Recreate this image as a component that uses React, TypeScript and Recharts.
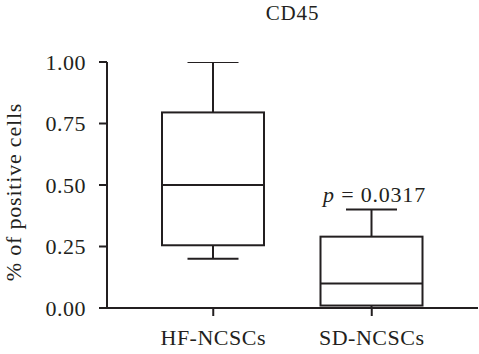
import React from 'react';
import { ComposedChart, Bar, XAxis, YAxis } from 'recharts';

const categories = ['HF-NCSCs', 'SD-NCSCs'];
const minVals = [0.2, 0.0];
const q1Vals = [0.255, 0.01];
const medianVals = [0.5, 0.1];
const q3Vals = [0.795, 0.29];
const maxVals = [1.0, 0.4];
const pLabels = ['', '0.0317'];
const yTicks = [0, 0.25, 0.5, 0.75, 1];
const title = 'CD45';
const yLabel = '% of positive cells';

const data = categories.map((name, i) => ({
  name,
  range: [minVals[i], maxVals[i]],
  min: minVals[i],
  q1: q1Vals[i],
  median: medianVals[i],
  q3: q3Vals[i],
  max: maxVals[i],
  p: pLabels[i],
}));

const INK = '#231f20';
const FONT = '"Liberation Serif", "Times New Roman", serif';

const BoxShape = (props: any) => {
  const { x, y, width, height, payload } = props;
  const top = Math.min(y, y + height);
  const bot = Math.max(y, y + height);
  const lo = payload.min;
  const hi = payload.max;
  const py = (v: number) => bot - ((v - lo) / (hi - lo)) * (bot - top);
  const cx = x + width / 2;
  const capHalf = width / 4;
  const yq1 = py(payload.q1);
  const yq3 = py(payload.q3);
  const ymed = py(payload.median);
  const ymin = py(payload.min);
  const ymax = py(payload.max);
  return (
    <g>
      <line x1={cx} x2={cx} y1={ymax} y2={yq3} stroke={INK} strokeWidth={2} />
      <line x1={cx} x2={cx} y1={yq1} y2={ymin} stroke={INK} strokeWidth={2} />
      <line x1={cx - capHalf} x2={cx + capHalf} y1={ymax} y2={ymax} stroke={INK} strokeWidth={2} />
      <line x1={cx - capHalf} x2={cx + capHalf} y1={ymin} y2={ymin} stroke={INK} strokeWidth={2} />
      <rect x={x} y={yq3} width={width} height={yq1 - yq3} fill="#fff" stroke={INK} strokeWidth={2} />
      <line x1={x} x2={x + width} y1={ymed} y2={ymed} stroke={INK} strokeWidth={2} />
      {payload.p ? (
        <text
          x={cx + 3}
          y={ymax - 8}
          textAnchor="middle"
          fontFamily={FONT}
          fontSize={22}
          letterSpacing={0.8}
          fill={INK}
        >
          <tspan fontStyle="italic">p</tspan>
          {' = ' + payload.p}
        </text>
      ) : null}
    </g>
  );
};

export default function App() {
  return (
    <div style={{ position: 'relative', width: 479, height: 354, background: '#fff' }}>
      <style>{'body{margin:0}'}</style>
      <ComposedChart
        width={479}
        height={354}
        data={data}
        margin={{ top: 62, right: 1, bottom: 0, left: 0 }}
        style={{ fontFamily: FONT }}
      >
        <XAxis
          dataKey="name"
          type="category"
          padding={{ left: 27, right: 27 }}
          height={46}
          axisLine={{ stroke: INK, strokeWidth: 2 }}
          tickLine={{ stroke: INK, strokeWidth: 2 }}
          tickSize={8}
          tickMargin={13}
          tick={{ fill: INK, fontSize: 22, fontFamily: FONT, letterSpacing: 0.5 } as any}
          interval={0}
        />
        <YAxis
          type="number"
          domain={[0, 1]}
          ticks={yTicks}
          width={107}
          allowDataOverflow
          axisLine={{ stroke: INK, strokeWidth: 2 }}
          tickLine={{ stroke: INK, strokeWidth: 2 }}
          tickSize={8}
          tickMargin={13}
          tickFormatter={(v: number) => v.toFixed(2)}
          tick={{ fill: INK, fontSize: 22, fontFamily: FONT, letterSpacing: 0.5 } as any}
        />
        <Bar dataKey="range" barSize={102} shape={BoxShape} isAnimationActive={false} />
      </ComposedChart>
      <svg
        width={479}
        height={354}
        style={{ position: 'absolute', left: 0, top: 0, pointerEvents: 'none' }}
      >
        <text x={292.5} y={20} textAnchor="middle" fontFamily={FONT} fontSize={21} letterSpacing={0.8} fill={INK}>
          {title}
        </text>
        <text
          x={0}
          y={0}
          transform="translate(21,192) rotate(-90)"
          textAnchor="middle"
          fontFamily={FONT}
          fontSize={22}
          letterSpacing={0.8}
          fill={INK}
        >
          {yLabel}
        </text>
      </svg>
    </div>
  );
}
